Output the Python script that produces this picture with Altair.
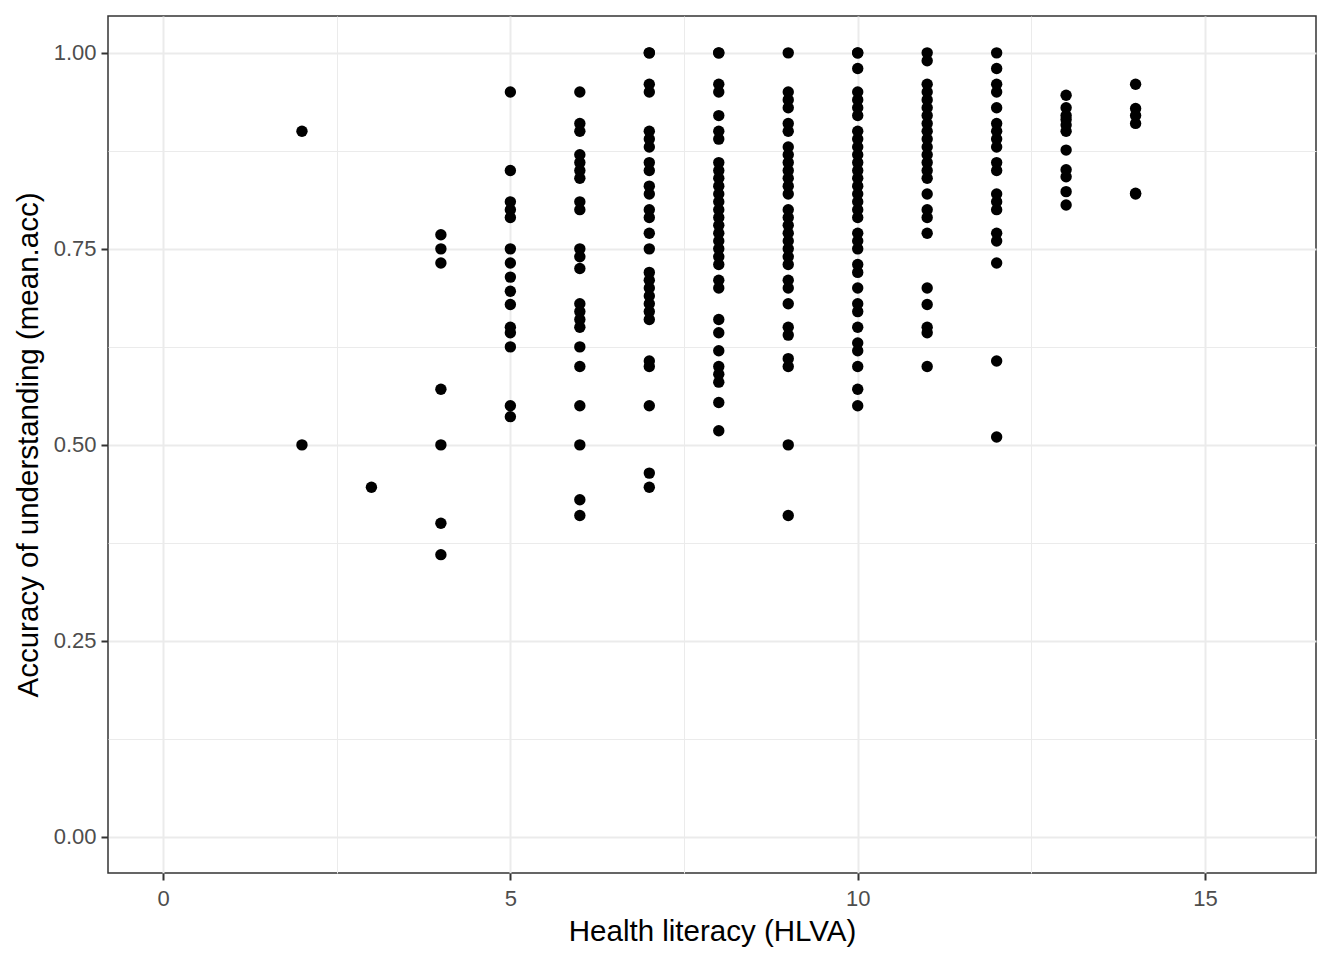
import altair as alt
import pandas as pd

# Health literacy (HLVA) score -> accuracy values (mean.acc)
acc_2 = [0.90, 0.50]
acc_3 = [0.446]
acc_4 = [0.768, 0.75, 0.732, 0.571, 0.50, 0.40, 0.36]
acc_5 = [0.95, 0.85, 0.81, 0.80, 0.79, 0.75, 0.732, 0.714, 0.696, 0.679,
         0.65, 0.643, 0.625, 0.55, 0.536]
acc_6 = [0.95, 0.91, 0.90, 0.87, 0.86, 0.85, 0.84, 0.81, 0.80, 0.75, 0.74,
         0.725, 0.68, 0.67, 0.66, 0.65, 0.625, 0.60, 0.55, 0.50, 0.43, 0.41]
acc_7 = [1.00, 1.00, 0.96, 0.95, 0.90, 0.89, 0.88, 0.86, 0.85, 0.83, 0.82,
         0.80, 0.79, 0.77, 0.75, 0.72, 0.71, 0.70, 0.69, 0.68, 0.67, 0.66,
         0.607, 0.60, 0.55, 0.464, 0.446]
acc_8 = [1.00, 1.00, 0.96, 0.95, 0.92, 0.90, 0.89, 0.86, 0.85, 0.84, 0.83,
         0.82, 0.81, 0.80, 0.79, 0.78, 0.77, 0.76, 0.75, 0.74, 0.73, 0.71,
         0.70, 0.66, 0.643, 0.62, 0.60, 0.59, 0.58, 0.554, 0.518]
acc_9 = [1.00, 0.95, 0.94, 0.93, 0.91, 0.90, 0.88, 0.87, 0.86, 0.85, 0.84,
         0.83, 0.82, 0.80, 0.79, 0.78, 0.77, 0.76, 0.75, 0.74, 0.73, 0.71,
         0.70, 0.68, 0.65, 0.64, 0.61, 0.60, 0.50, 0.41]
acc_10 = [1.00, 1.00, 0.98, 0.95, 0.94, 0.93, 0.92, 0.90, 0.89, 0.88, 0.87,
          0.86, 0.85, 0.84, 0.83, 0.82, 0.81, 0.80, 0.79, 0.77, 0.76, 0.75,
          0.73, 0.72, 0.70, 0.68, 0.67, 0.65, 0.63, 0.62, 0.60, 0.571, 0.55]
acc_11 = [1.00, 0.99, 0.96, 0.95, 0.94, 0.93, 0.92, 0.91, 0.90, 0.89, 0.88,
          0.87, 0.86, 0.85, 0.84, 0.82, 0.80, 0.79, 0.77, 0.70, 0.679, 0.65,
          0.643, 0.60]
acc_12 = [1.00, 0.98, 0.96, 0.95, 0.93, 0.91, 0.90, 0.89, 0.88, 0.86, 0.85,
          0.82, 0.81, 0.80, 0.77, 0.76, 0.732, 0.607, 0.51]
acc_13 = [0.946, 0.93, 0.92, 0.915, 0.908, 0.90, 0.876, 0.851, 0.842, 0.823,
          0.806]
acc_14 = [0.96, 0.929, 0.92, 0.91, 0.821, 0.82]

hlva_scores = [2, 3, 4, 5, 6, 7, 8, 9, 10, 11, 12, 13, 14]
acc_lists = [acc_2, acc_3, acc_4, acc_5, acc_6, acc_7, acc_8, acc_9, acc_10,
             acc_11, acc_12, acc_13, acc_14]

rows = []
for h, vals in zip(hlva_scores, acc_lists):
    for v in vals:
        rows.append({"HLVA": h, "mean_acc": v})
df = pd.DataFrame(rows)

x_grid = [0, 2.5, 5, 7.5, 10, 12.5, 15]
y_grid = [0, 0.125, 0.25, 0.375, 0.5, 0.625, 0.75, 0.875, 1.0]

font = "Liberation Sans"
x_major = "datum.value % 5 === 0"
y_major = "round(datum.value * 1000) % 250 === 0"

points = alt.Chart(df).mark_circle(size=130, color="black", opacity=1).encode(
    x=alt.X(
        "HLVA:Q",
        scale=alt.Scale(domain=[-0.792, 16.597], nice=False, zero=False),
        axis=alt.Axis(
            title="Health literacy (HLVA)",
            values=x_grid,
            format="d",
            labelExpr=f"{x_major} ? datum.label : ''",
            gridWidth={"condition": {"test": x_major, "value": 2}, "value": 1},
            tickOpacity={"condition": {"test": x_major, "value": 1}, "value": 0},
            labelPadding=8,
            titlePadding=8,
        ),
    ),
    y=alt.Y(
        "mean_acc:Q",
        scale=alt.Scale(domain=[-0.046, 1.047], nice=False, zero=False),
        axis=alt.Axis(
            title="Accuracy of understanding (mean.acc)",
            values=y_grid,
            format=".2f",
            labelExpr=f"{y_major} ? datum.label : ''",
            gridWidth={"condition": {"test": y_major, "value": 2}, "value": 1},
            tickOpacity={"condition": {"test": y_major, "value": 1}, "value": 0},
            labelPadding=5,
            titlePadding=10,
        ),
    ),
)

chart = points.properties(
    width=1208,
    height=857,
    autosize=alt.AutoSizeParams(type="none"),
    padding={"left": 100, "top": 8, "right": 20, "bottom": 80},
).configure_view(
    stroke="#333333", strokeWidth=1.5, fill="white"
).configure_axis(
    domain=False,
    grid=True,
    gridColor="#EBEBEB",
    tickColor="#333333",
    tickSize=7,
    tickWidth=2,
    labelColor="#4D4D4D",
    labelFont=font,
    labelFontSize=22,
    titleFont=font,
    titleFontSize=29.5,
    titleFontWeight="normal",
    titleColor="black",
)

chart.save("out.html", embed_options={"renderer": "svg", "actions": False})
